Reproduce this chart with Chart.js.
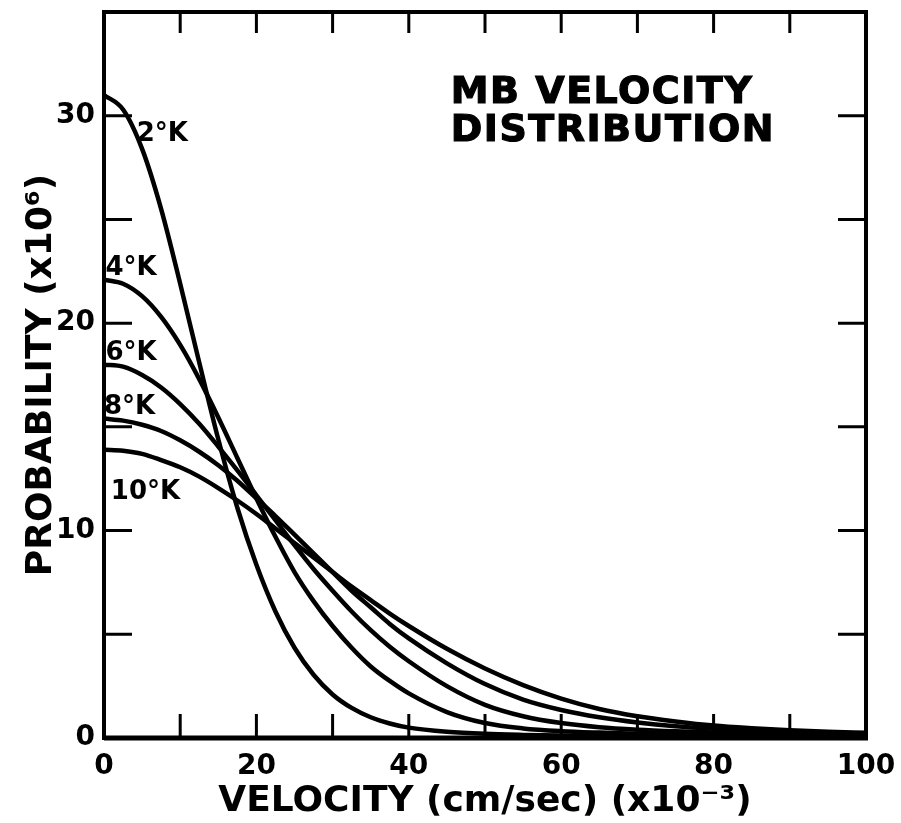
<!DOCTYPE html>
<html>
<head>
<meta charset="utf-8">
<script src="https://cdn.jsdelivr.net/npm/chart.js@4.4.1/dist/chart.umd.min.js"></script>
<style>
  html, body { margin: 0; padding: 0; background: #fff; }
  #wrap { width: 901px; height: 823px; }
</style>
</head>
<body>
<div id="wrap"><canvas id="c" width="901" height="823"></canvas></div>
<script>
// ---- data ----
const velocity = [0, 2.5, 5, 7.5, 10, 12.5, 15, 17.5, 20, 22.5, 25, 27.5, 30, 32.5, 35, 37.5, 40, 45, 50, 55, 60, 65, 70, 75, 80, 85, 90, 95, 100];
const p2K  = [31.0, 30.3, 28.4, 25.5, 21.9, 18.1, 14.4, 11.1, 8.35, 6.1, 4.35, 3.05, 2.1, 1.45, 1.0, 0.7, 0.5, 0.3, 0.2, 0.15, 0.12, 0.1, 0.1, 0.1, 0.1, 0.1, 0.1, 0.1, 0.1];
const p4K  = [22.1, 21.9, 21.3, 20.3, 18.95, 17.3, 15.45, 13.5, 11.55, 9.7, 8.0, 6.6, 5.4, 4.35, 3.45, 2.75, 2.15, 1.25, 0.72, 0.46, 0.33, 0.26, 0.21, 0.17, 0.15, 0.13, 0.12, 0.11, 0.1];
const p6K  = [18.0, 17.9, 17.5, 16.9, 16.1, 15.15, 14.05, 12.9, 11.7, 10.5, 9.3, 8.15, 7.1, 6.1, 5.2, 4.4, 3.7, 2.5, 1.6, 1.05, 0.72, 0.52, 0.4, 0.32, 0.26, 0.22, 0.19, 0.16, 0.14];
const p8K  = [15.4, 15.3, 15.1, 14.8, 14.35, 13.8, 13.15, 12.4, 11.55, 10.7, 9.8, 8.9, 8.0, 7.1, 6.3, 5.5, 4.8, 3.6, 2.6, 1.85, 1.35, 1.0, 0.75, 0.57, 0.45, 0.36, 0.3, 0.25, 0.21];
const p10K = [13.9, 13.85, 13.7, 13.4, 13.05, 12.6, 12.05, 11.45, 10.8, 10.1, 9.4, 8.7, 8.0, 7.3, 6.65, 6.0, 5.4, 4.3, 3.35, 2.55, 1.9, 1.4, 1.05, 0.8, 0.6, 0.47, 0.37, 0.3, 0.25];
const seriesNames = ['2°K', '4°K', '6°K', '8°K', '10°K'];
const seriesValues = [p2K, p4K, p6K, p8K, p10K];
const xLabelValues = [0, 20, 40, 60, 80, 100];
const yLabelValues = [0, 10, 20, 30];
const xMarkValues = [10, 20, 30, 40, 50, 60, 70, 80, 90];
const yMarkValues = [5, 10, 15, 20, 25, 30];
const xTitle = 'VELOCITY (cm/sec) (x10⁻³)';
const yTitle = 'PROBABILITY (x10⁶)';
const chartTitle = ['MB VELOCITY', 'DISTRIBUTION'];

// ---- annotation placement (data coordinates) ----
const curveLabelPlacement = [
  { x: 4.3, y: 28.8 },
  { x: 0.2, y: 22.3 },
  { x: 0.2, y: 18.2 },
  { x: 0.0, y: 15.6 },
  { x: 0.9, y: 11.5 }
];
const titlePlacement = [ { x: 45.5, y: 30.6 }, { x: 45.5, y: 28.8 } ];

const FONT = 'DejaVu Sans';

const frameAndNotes = {
  id: 'frameAndNotes',
  afterDatasetsDraw(chart) {
    const { ctx, chartArea: a, scales: { x, y } } = chart;
    ctx.save();
    ctx.strokeStyle = '#000';
    ctx.fillStyle = '#000';
    ctx.lineCap = 'butt';
    ctx.lineWidth = 3;
    ctx.beginPath();
    xMarkValues.forEach(v => {
      const px = x.getPixelForValue(v);
      ctx.moveTo(px, a.bottom); ctx.lineTo(px, a.bottom - 24);
      ctx.moveTo(px, a.top); ctx.lineTo(px, a.top + 21);
    });
    yMarkValues.forEach(v => {
      const py = y.getPixelForValue(v);
      ctx.moveTo(a.left, py); ctx.lineTo(a.left + 28, py);
      ctx.moveTo(a.right, py); ctx.lineTo(a.right - 28, py);
    });
    ctx.stroke();
    ctx.lineWidth = 4;
    ctx.strokeRect(a.left, a.top, a.right - a.left, a.bottom - a.top);
    ctx.lineWidth = 5;
    ctx.beginPath();
    ctx.moveTo(a.left, a.bottom); ctx.lineTo(a.right + 2, a.bottom);
    ctx.stroke();
    ctx.font = `bold 26px "${FONT}"`;
    ctx.textAlign = 'left';
    ctx.textBaseline = 'alphabetic';
    seriesNames.forEach((name, i) => {
      const p = curveLabelPlacement[i];
      ctx.fillText(name, x.getPixelForValue(p.x), y.getPixelForValue(p.y));
    });
    ctx.font = `bold 38px "${FONT}"`;
    try { ctx.letterSpacing = '1.5px'; } catch (e) {}
    ctx.lineWidth = 1.2;
    chartTitle.forEach((t, i) => {
      const p = titlePlacement[i];
      const px = x.getPixelForValue(p.x), py = y.getPixelForValue(p.y);
      ctx.fillText(t, px, py);
      ctx.strokeText(t, px, py);
    });
    ctx.restore();
  }
};

const tickFont = { family: FONT, weight: 'bold', size: 28 };
const titleFont = { family: FONT, weight: 'bold', size: 36 };

new Chart(document.getElementById('c'), {
  type: 'line',
  data: {
    datasets: seriesNames.map((name, i) => ({
      label: name,
      data: velocity.map((v, j) => ({ x: v, y: seriesValues[i][j] })),
      borderColor: '#000',
      borderWidth: 4.5,
      pointRadius: 0,
      fill: false,
      cubicInterpolationMode: 'monotone'
    }))
  },
  options: {
    responsive: false,
    animation: false,
    devicePixelRatio: 1,
    layout: { padding: { left: 0, right: 35, top: 12, bottom: 0 } },
    plugins: { legend: { display: false }, tooltip: { enabled: false } },
    scales: {
      x: {
        type: 'linear', min: 0, max: 100,
        afterBuildTicks: s => { s.ticks = xLabelValues.map(v => ({ value: v })); },
        afterFit: s => { s.height = 85; s.paddingLeft = 0; s.paddingRight = 0; },
        grid: { display: false, drawTicks: false },
        border: { display: false },
        ticks: { font: tickFont, color: '#000', padding: 12, maxRotation: 0, autoSkip: false },
        title: { display: true, text: xTitle, font: titleFont, color: '#000', padding: { top: 0, bottom: 0 } }
      },
      y: {
        type: 'linear', min: 0, max: 35,
        afterBuildTicks: s => { s.ticks = yLabelValues.map(v => ({ value: v })); },
        afterFit: s => { s.width = 104; s.paddingTop = 0; s.paddingBottom = 0; },
        grid: { display: false, drawTicks: false },
        border: { display: false },
        ticks: { font: tickFont, color: '#000', padding: 9, autoSkip: false },
        title: { display: true, text: yTitle, font: titleFont, color: '#000', padding: { top: 20, bottom: 0 } }
      }
    }
  },
  plugins: [frameAndNotes]
});
</script>
</body>
</html>
